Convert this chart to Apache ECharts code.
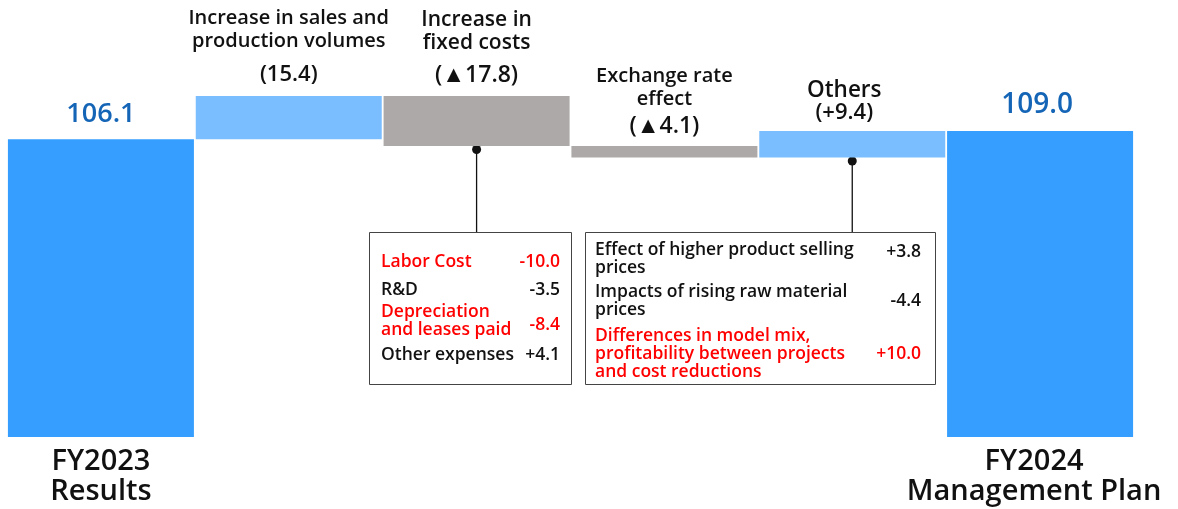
<!DOCTYPE html>
<html><head><meta charset="utf-8">
<script src="https://cdn.jsdelivr.net/npm/echarts@6/dist/echarts.min.js"></script>
<style>html,body{margin:0;padding:0;background:#fff}#c{width:1178px;height:509px}</style>
</head><body><div id="c"></div>
<script>
const categories = ['FY2023\nResults', 'Increase in sales and\nproduction volumes', 'Increase in\nfixed costs', 'Exchange rate\neffect', 'Others', 'FY2024\nManagement Plan'];
const startValue = 106.1;
const changes = [15.4, -17.8, -4.1, 9.4];
const endValue = 109.0;
const valueLabels = ['106.1', '(15.4)', '(\u25B217.8)', '(\u25B24.1)', '(+9.4)', '109.0'];
const fixedCostItems = [['Labor Cost', '-10.0'], ['R&D', '-3.5'], ['Depreciation\nand leases paid', '-8.4'], ['Other expenses', '+4.1']];
const othersItems = [['Effect of higher product selling\nprices', '+3.8'], ['Impacts of rising raw material\nprices', '-4.4'], ['Differences in model mix,\nprofitability between projects\nand cost reductions', '+10.0']];

const FONT = '"Open Sans", "Noto Sans", sans-serif';
const C_MAIN = '#359EFF', C_UP = '#7BBEFF', C_DOWN = '#ADA9A8', C_LBL = '#1565B7';

// waterfall base/height
const base = [0], height = [startValue];
let run = startValue;
changes.forEach(d => { const nr = run + d; base.push(Math.min(run, nr)); height.push(Math.abs(d)); run = nr; });
base.push(0); height.push(endValue);
const colors = [C_MAIN].concat(changes.map(d => d >= 0 ? C_UP : C_DOWN)).concat([C_MAIN]);

function midLabel(i, tSize, tLh, spacer, vSize, dist, dx) {
  const lines = categories[i].split('\n').map(l => '{t|' + l + '}');
  let f = lines.join('\n');
  if (spacer > 0) f += '\n{s| }';
  f += '\n{v|' + valueLabels[i] + '}';
  return {
    show: true, position: 'top', distance: dist, formatter: f, offset: [dx || 0, 0],
    rich: {
      t: { fontFamily: FONT, fontWeight: 600, fontSize: tSize, lineHeight: tLh, color: '#111', align: 'center' },
      s: { fontSize: 2, lineHeight: spacer || 1 },
      v: { fontFamily: FONT, fontWeight: 600, fontSize: vSize, lineHeight: 24, color: '#111', align: 'center' }
    }
  };
}
const labels = [
  { show: true, position: 'top', distance: 10, formatter: valueLabels[0], fontFamily: FONT, fontWeight: 600, fontSize: 27, lineHeight: 30, color: C_LBL },
  midLabel(1, 20, 23, 10.5, 22, 9, 0),
  midLabel(2, 21, 23, 8.5, 23, 9, 0),
  midLabel(3, 20, 23, 4.5, 23, 7, 0),
  midLabel(4, 22.5, 20, 0, 22, 6, -8),
  { show: true, position: 'top', distance: 11, offset: [-3, 0], formatter: valueLabels[5], fontFamily: FONT, fontWeight: 600, fontSize: 28, lineHeight: 30, color: C_LBL }
];

const chart = echarts.init(document.getElementById('c'), null, { renderer: 'canvas' });
chart.setOption({
  animation: false,
  backgroundColor: '#fff',
  grid: { left: 7, right: 44, top: 16, bottom: 72, containLabel: false },
  xAxis: {
    type: 'category', data: categories,
    axisLine: { show: false }, axisTick: { show: false }, splitLine: { show: false },
    axisLabel: {
      interval: 0, margin: 10, color: '#111', fontFamily: FONT, fontWeight: 600, fontSize: 29, lineHeight: 30,
      formatter: (v, i) => {
        if (i === 0) return v;
        if (i === categories.length - 1) return v.split('\n').map(l => '{r|' + l + '}').join('\n');
        return '';
      },
      rich: { r: { fontFamily: FONT, fontWeight: 600, fontSize: 29, lineHeight: 30, color: '#111', padding: [0, 12, 0, 0] } }
    }
  },
  yAxis: { type: 'value', min: 0, max: 150, show: false, splitLine: { show: false } },
  series: [
    { type: 'bar', stack: 'w', barWidth: 186, data: base, itemStyle: { color: 'transparent' }, silent: true },
    { type: 'bar', stack: 'w', barWidth: 186,
      data: height.map((h, i) => ({ value: h, itemStyle: { color: colors[i] }, label: labels[i] })) }
  ]
});

// callout annotations
function p(ci, v) { return chart.convertToPixel({ gridIndex: 0 }, [ci, v]); }
const fixBottom = p(2, base[2]);
const othBottom = p(4, base[4]);
const boxTop = 232, boxBottom = 384;
const box1 = { x: 369, w: 202 }, box2 = { x: 585, w: 350 };
const g = [];
function txt(x, y, text, color, align) {
  return { type: 'text', x: x, y: y, style: { text: text, fill: color, font: '600 17.5px ' + FONT, align: align, verticalAlign: 'middle', lineHeight: 18 } };
}
// connectors
[[fixBottom, box1], [othBottom, box2]].forEach(([pt, b]) => {
  g.push({ type: 'line', shape: { x1: pt[0], y1: pt[1] + 3.5, x2: pt[0], y2: boxTop }, style: { stroke: '#111', lineWidth: 1.3 } });
  g.push({ type: 'circle', shape: { cx: pt[0], cy: pt[1] + 3.5, r: 4.5 }, style: { fill: '#111' } });
  g.push({ type: 'rect', shape: { x: b.x + 0.5, y: boxTop + 0.5, width: b.w, height: boxBottom - boxTop }, style: { fill: '#fff', stroke: '#444', lineWidth: 1 } });
});
// box 1
const b1y = [262, 290, 321, 355];
const b1red = [true, false, true, false];
fixedCostItems.forEach((it, i) => {
  const col = b1red[i] ? '#FF0000' : '#111';
  g.push(txt(381, b1y[i], it[0], col, 'left'));
  g.push(txt(560, i === 2 ? 325 : b1y[i], it[1], col, 'right'));
});
// box 2
const b2y = [259, 301, 354];
const b2vy = [252, 301, 354];
const b2red = [false, false, true];
othersItems.forEach((it, i) => {
  const col = b2red[i] ? '#FF0000' : '#111';
  g.push(txt(595, b2y[i], it[0], col, 'left'));
  g.push(txt(921, b2vy[i], it[1], col, 'right'));
});
chart.setOption({ graphic: g });
</script></body></html>
